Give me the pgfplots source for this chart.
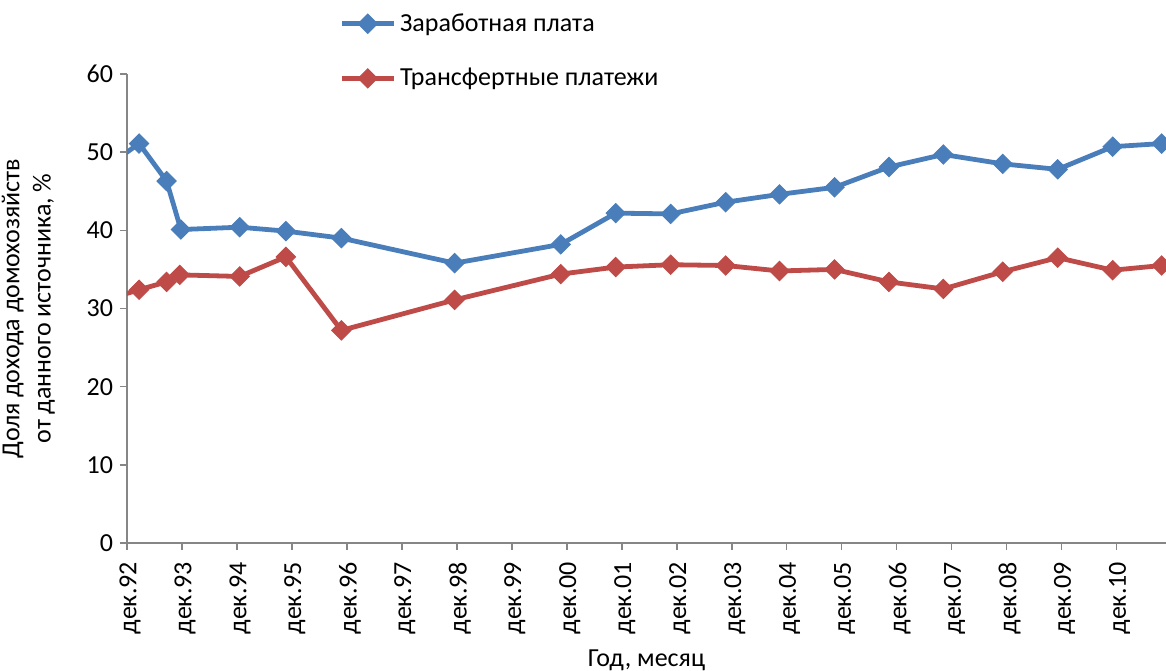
\documentclass[border=0pt]{standalone}
\usepackage{fontspec}
\setmainfont{Carlito}
\usepackage{pgfplots}
\usepackage{pgfplotstable}
\pgfplotsset{compat=1.18}
\usetikzlibrary{calc}

\definecolor{wage}{HTML}{4A7EBB}
\definecolor{transf}{HTML}{BE4B48}
\definecolor{axgray}{HTML}{868686}

% years counted from dec.92
\pgfplotstableread{
x     y
-0.20 49.0
0.22  51.1
0.72  46.3
0.98  40.1
2.05  40.4
2.89  39.9
3.90  39.0
5.96  35.8
7.89  38.2
8.89  42.2
9.89  42.1
10.89 43.6
11.87 44.6
12.87 45.5
13.86 48.1
14.85 49.7
15.93 48.5
16.93 47.8
17.93 50.7
18.82 51.1
}\wage

\pgfplotstableread{
x     y
-0.20 31.5
0.22  32.4
0.72  33.4
0.96  34.3
2.05  34.1
2.89  36.6
3.90  27.2
5.96  31.1
7.89  34.4
8.89  35.3
9.89  35.6
10.89 35.5
11.87 34.8
12.87 35.0
13.86 33.4
14.85 32.5
15.93 34.7
16.93 36.5
17.93 34.9
18.82 35.5
}\transf

\begin{document}
\begin{tikzpicture}[font=\fontsize{13}{15.6}\selectfont]
\begin{axis}[
    scale only axis,
    width=519.5pt, height=234.5pt,
    xmin=0, xmax=18.9,
    ymin=0, ymax=60,
    axis x line*=bottom, axis y line*=left,
    axis line style={axgray, line width=0.8pt, -},
    tick style={axgray, line width=0.8pt},
    tick align=outside,
    major tick length=3.5pt,
    xtick={0,...,18},
    xticklabels={дек.92,дек.93,дек.94,дек.95,дек.96,дек.97,дек.98,дек.99,дек.00,дек.01,дек.02,дек.03,дек.04,дек.05,дек.06,дек.07,дек.08,дек.09,дек.10},
    xticklabel style={xshift=1.5pt, rotate=90, anchor=east},
    xticklabel shift=2.5pt,
    ytick={0,10,...,60},
    /pgf/number format/assume math mode=true,
    every axis y label/.style={at={(axis description cs:-0.0626,0.5)}, rotate=90, anchor=south, align=center},
    every axis x label/.style={at={(axis description cs:0.5,-0.2644)}, anchor=base},
    ylabel={Доля дохода домохозяйств\\от данного источника, \%},
    xlabel={Год, месяц},
    clip marker paths=true,
    legend cell align=left,
    legend style={at={(rel axis cs:0.204,1.1386)}, anchor=north west, draw=none, fill=none,
        row sep=13pt, inner sep=0pt},
    legend image code/.code={\draw[mark repeat=2,mark phase=2] plot coordinates {(0pt,0pt) (13pt,0pt) (26pt,0pt)};},
]
\addplot[wage, line width=2.4pt, mark=square*, mark size=3.4pt, mark options={rotate=45, solid, line width=0.5pt}] table {\wage};
\addlegendentry{Заработная плата}
\addplot[transf, line width=2.4pt, mark=square*, mark size=3.4pt, mark options={rotate=45, solid, line width=0.5pt}] table {\transf};
\addlegendentry{Трансфертные платежи}
\coordinate (bl) at (rel axis cs:0,0);
\coordinate (tr) at (rel axis cs:1,1);
\end{axis}
\pgfresetboundingbox
\useasboundingbox ($(bl)+(-63.5pt,-64pt)$) rectangle ($(tr)+(0pt,37pt)$);
\end{tikzpicture}
\end{document}
